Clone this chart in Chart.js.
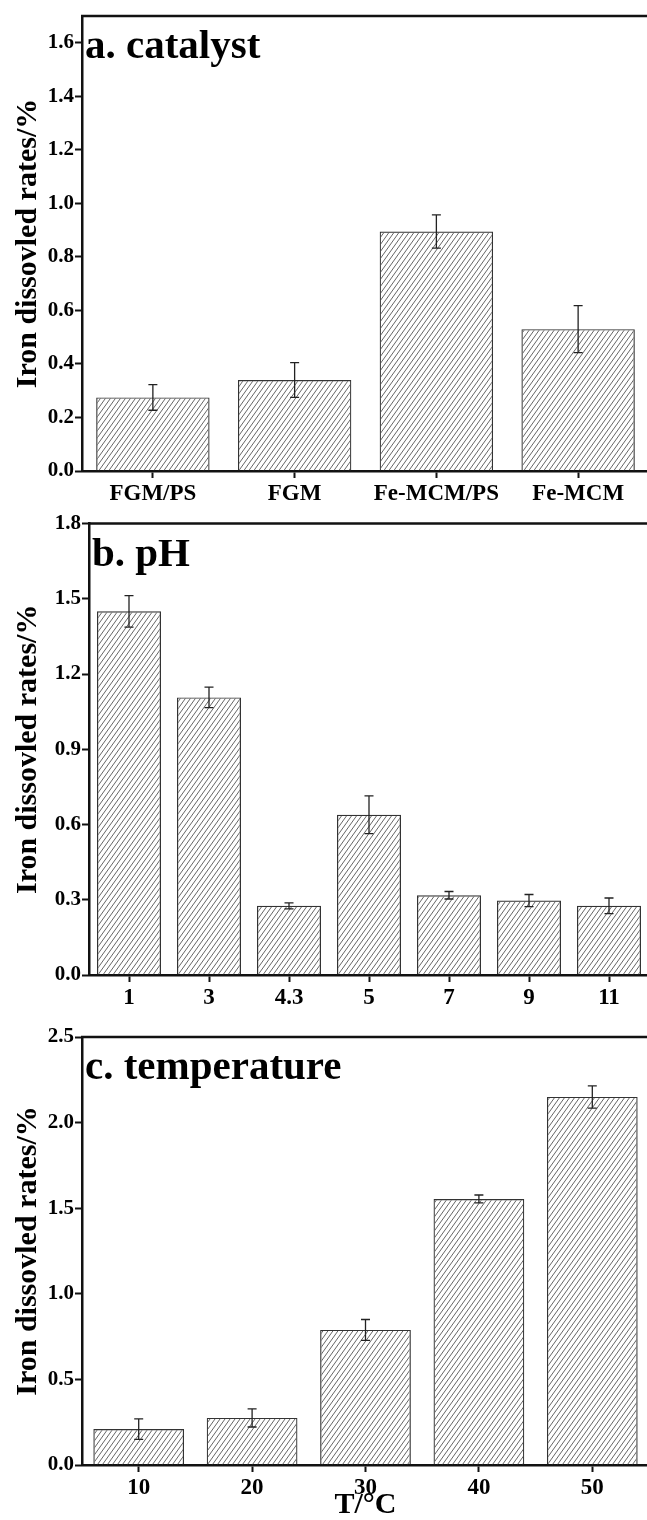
<!DOCTYPE html>
<html>
<head>
<meta charset="utf-8">
<script src="https://cdn.jsdelivr.net/npm/chart.js@4.4.1/dist/chart.umd.min.js"></script>
<style>
  html, body { margin: 0; padding: 0; background: #fff; }
  #wrap { position: relative; width: 647px; height: 1520px; overflow: hidden; }
  #wrap canvas { position: absolute; left: 0; }
</style>
</head>
<body>
<div id="wrap">
  <canvas id="chartA" width="652" height="510" style="top:0px"></canvas>
  <canvas id="chartB" width="652" height="510" style="top:510px"></canvas>
  <canvas id="chartC" width="652" height="500" style="top:1020px"></canvas>
</div>
<script>
// a. catalyst
var catalystLabels = ['FGM/PS', 'FGM', 'Fe-MCM/PS', 'Fe-MCM'];
var catalystRates = [0.275, 0.34, 0.895, 0.53];
var catalystErrors = [0.048, 0.065, 0.062, 0.088];

// b. pH
var phLabels = ['1', '3', '4.3', '5', '7', '9', '11'];
var phRates = [1.45, 1.107, 0.276, 0.639, 0.318, 0.297, 0.276];
var phErrors = [0.063, 0.041, 0.012, 0.075, 0.015, 0.024, 0.031];

// c. temperature
var tempLabels = ['10', '20', '30', '40', '50'];
var tempRates = [0.21, 0.275, 0.789, 1.554, 2.15];
var tempErrors = [0.06, 0.053, 0.061, 0.023, 0.065];

var yTitle = 'Iron dissovled rates/%';
var serif = "'Liberation Serif', 'Times New Roman', serif";

Chart.defaults.font.family = serif;
Chart.defaults.font.weight = 'bold';
Chart.defaults.color = '#111';

// hatch tile for the bars
var tile = document.createElement('canvas');
tile.width = 5;
tile.height = 7;
var tctx = tile.getContext('2d');
tctx.strokeStyle = '#555';
tctx.lineWidth = 0.9;
tctx.beginPath();
[-5, 0, 5].forEach(function(dx) {
  tctx.moveTo(dx, 7);
  tctx.lineTo(dx + 5, 0);
});
tctx.stroke();

// error bars, through the y scale
var errorBars = {
  id: 'errorBars',
  afterDatasetsDraw: function(chart, args, opts) {
    var ctx = chart.ctx;
    var y = chart.scales.y;
    var values = chart.data.datasets[0].data;
    ctx.save();
    ctx.strokeStyle = '#222';
    ctx.lineWidth = 1.3;
    chart.getDatasetMeta(0).data.forEach(function(bar, i) {
      var hi = y.getPixelForValue(values[i] + opts.errors[i]);
      var lo = y.getPixelForValue(values[i] - opts.errors[i]);
      ctx.beginPath();
      ctx.moveTo(bar.x, hi); ctx.lineTo(bar.x, lo);
      ctx.moveTo(bar.x - 4.5, hi); ctx.lineTo(bar.x + 4.5, hi);
      ctx.moveTo(bar.x - 4.5, lo); ctx.lineTo(bar.x + 4.5, lo);
      ctx.stroke();
    });
    ctx.restore();
  }
};

// top frame line and the panel label
var frame = {
  id: 'frame',
  afterDraw: function(chart, args, opts) {
    var ctx = chart.ctx;
    var area = chart.chartArea;
    ctx.save();
    ctx.strokeStyle = '#111';
    ctx.lineWidth = 2.5;
    ctx.beginPath();
    ctx.moveTo(area.left - 1, area.top);
    ctx.lineTo(area.right + 5, area.top);
    ctx.stroke();
    ctx.fillStyle = '#000';
    ctx.font = 'bold 41px ' + serif;
    ctx.textBaseline = 'alphabetic';
    ctx.fillText(opts.label, area.left + 3, area.top + 42);
    ctx.restore();
  }
};

function makePanel(id, labels, values, errors, opts) {
  return new Chart(document.getElementById(id), {
    type: 'bar',
    data: {
      labels: labels,
      datasets: [{
        data: values,
        backgroundColor: function(c) { return c.chart.ctx.createPattern(tile, 'repeat'); },
        borderColor: '#333',
        borderWidth: 1.2,
        categoryPercentage: 1,
        barPercentage: 0.8
      }]
    },
    options: {
      responsive: false,
      animation: false,
      devicePixelRatio: 1,
      layout: { padding: { top: opts.padTop, right: 3, left: 0, bottom: 0 } },
      plugins: {
        legend: { display: false },
        tooltip: { enabled: false },
        frame: { label: opts.label },
        errorBars: { errors: errors }
      },
      scales: {
        x: {
          afterFit: function(s) { s.height = opts.xHeight; },
          grid: { display: true, offset: false, drawOnChartArea: false, tickLength: 7, tickWidth: 2, tickColor: '#111' },
          border: { display: true, width: 2.5, color: '#111' },
          ticks: { font: { size: 23, weight: 'bold' }, color: '#000', padding: 2, maxRotation: 0 },
          title: {
            display: !!opts.xTitle,
            text: opts.xTitle || '',
            font: { size: 30, weight: 'bold', lineHeight: 1 },
            color: '#000',
            padding: 0
          }
        },
        y: {
          min: 0,
          max: opts.yMax,
          afterFit: function(s) { s.width = opts.yWidth; },
          grid: { display: true, drawOnChartArea: false, tickLength: 7, tickWidth: 2, tickColor: '#111' },
          border: { display: true, width: 2.5, color: '#111' },
          ticks: {
            stepSize: opts.yStep,
            includeBounds: false,
            font: { size: 21, weight: 'bold' },
            color: '#000',
            padding: 1,
            callback: function(v) { return Number(v).toFixed(1); }
          },
          title: {
            display: true,
            text: yTitle,
            font: { size: 30, weight: 'bold', lineHeight: 1 },
            color: '#000',
            padding: { top: 13, bottom: 0 }
          }
        }
      }
    },
    plugins: [errorBars, frame]
  });
}

makePanel('chartA', catalystLabels, catalystRates, catalystErrors,
  { label: 'a. catalyst', yMax: 1.7, yStep: 0.2, padTop: 16, xHeight: 39, yWidth: 82 });
makePanel('chartB', phLabels, phRates, phErrors,
  { label: 'b. pH', yMax: 1.8, yStep: 0.3, padTop: 12, xHeight: 45, yWidth: 89 });
makePanel('chartC', tempLabels, tempRates, tempErrors,
  { label: 'c. temperature', yMax: 2.5, yStep: 0.5, padTop: 17, xHeight: 55, yWidth: 82, xTitle: 'T/°C' });
</script>
</body>
</html>
